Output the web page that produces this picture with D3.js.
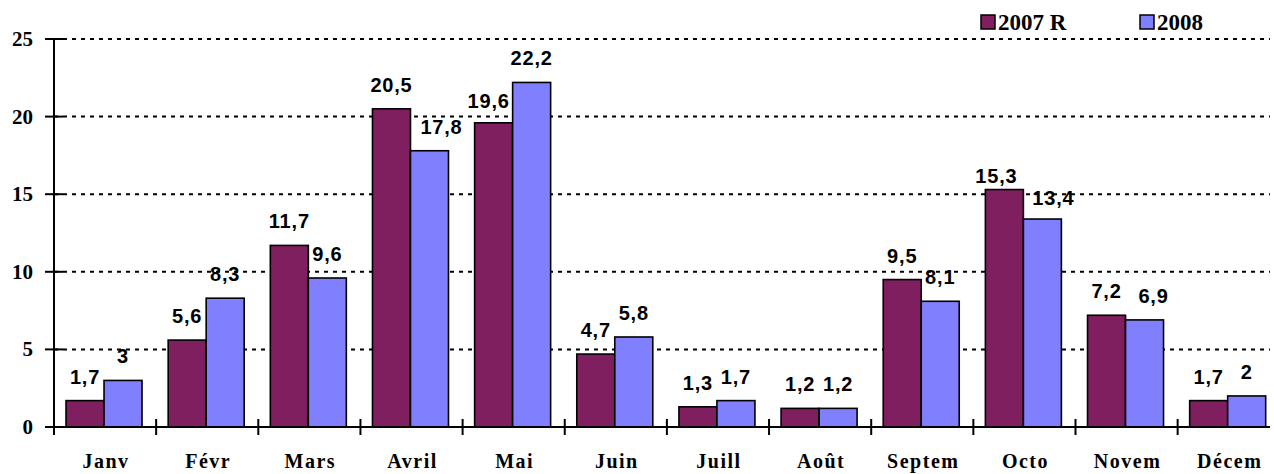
<!DOCTYPE html>
<html>
<head>
<meta charset="utf-8">
<script src="https://cdn.jsdelivr.net/npm/d3@7"></script>
<style>
  html, body { margin: 0; padding: 0; background: #fff; }
  svg { display: block; }
</style>
</head>
<body>
<svg id="chart" width="1274" height="474"></svg>
<script>
const categories = ["Janv", "Févr", "Mars", "Avril", "Mai", "Juin", "Juill", "Août", "Septem", "Octo", "Novem", "Décem"];
const seriesNames = ["2007 R", "2008"];
const values2007 = [1.7, 5.6, 11.7, 20.5, 19.6, 4.7, 1.3, 1.2, 9.5, 15.3, 7.2, 1.7];
const values2008 = [3, 8.3, 9.6, 17.8, 22.2, 5.8, 1.7, 1.2, 8.1, 13.4, 6.9, 2];
const yTicks = [0, 5, 10, 15, 20, 25];

const colors = ["#7f1f5f", "#8080ff"];
const svg = d3.select("#chart");

const x0 = 54, step = 102.15;
const x = d3.scaleBand().domain(categories).range([x0, x0 + step * categories.length]).padding(0);
const xs = d3.scaleBand().domain(seriesNames).range([0, x.bandwidth()]).paddingInner(0).paddingOuter(0.344).align(0.46);
const y = d3.scaleLinear().domain([0, 25]).range([427, 39]);

const fmt = v => String(v).replace(".", ",");

// gridlines
svg.append("g").selectAll("line").data(yTicks.filter(t => t > 0)).join("line")
  .attr("x1", x0).attr("x2", 1270)
  .attr("y1", d => y(d)).attr("y2", d => y(d))
  .attr("stroke", "#000").attr("stroke-width", 2).attr("stroke-dasharray", "4,5");

// bars
const rows = categories.map((c, i) => ({ c, vals: [values2007[i], values2008[i]] }));
const groups = svg.append("g").selectAll("g").data(rows).join("g")
  .attr("transform", d => `translate(${x(d.c)},0)`);
groups.selectAll("rect").data(d => d.vals.map((v, k) => ({ v, k }))).join("rect")
  .attr("x", d => xs(seriesNames[d.k]))
  .attr("width", xs.bandwidth())
  .attr("y", d => y(d.v))
  .attr("height", d => y(0) - y(d.v))
  .attr("fill", d => colors[d.k])
  .attr("stroke", "#000").attr("stroke-width", 1.6);

// value labels (small manual nudges as in the original)
const nudge = { "Avril-1": [12, 0], "Mai-0": [-5, 2], "Octo-0": [-8, 10], "Octo-1": [11, 3], "Novem-1": [9, 0] };
groups.selectAll("text").data(d => d.vals.map((v, k) => ({ v, k, c: d.c }))).join("text")
  .attr("x", d => xs(seriesNames[d.k]) + xs.bandwidth() / 2 + (nudge[d.c + "-" + d.k] || [0, 0])[0])
  .attr("y", d => y(d.v) - 17 + (nudge[d.c + "-" + d.k] || [0, 0])[1])
  .attr("text-anchor", "middle")
  .attr("font-family", "'Liberation Sans', Arial, sans-serif")
  .attr("font-weight", "bold").attr("font-size", 20).attr("letter-spacing", 0.8)
  .text(d => fmt(d.v));

// y axis
const yAxis = svg.append("g");
yAxis.append("line").attr("x1", x0).attr("x2", x0).attr("y1", y(25)).attr("y2", y(0))
  .attr("stroke", "#000").attr("stroke-width", 2);
yAxis.selectAll("line.tick").data(yTicks).join("line").attr("class", "tick")
  .attr("x1", x0 - 9).attr("x2", x0 + 9).attr("y1", d => y(d)).attr("y2", d => y(d))
  .attr("stroke", "#000").attr("stroke-width", 2);
yAxis.selectAll("text").data(yTicks).join("text")
  .attr("x", 33).attr("y", d => y(d) + 7)
  .attr("text-anchor", "end")
  .attr("font-family", "'Liberation Serif', 'Times New Roman', serif")
  .attr("font-weight", "bold").attr("font-size", 21)
  .text(d => d);

// x axis
const xAxis = svg.append("g");
xAxis.append("line").attr("x1", x0).attr("x2", 1270).attr("y1", y(0)).attr("y2", y(0))
  .attr("stroke", "#000").attr("stroke-width", 2);
xAxis.selectAll("line.tick").data(categories.map((c, i) => i)).join("line").attr("class", "tick")
  .attr("x1", i => x0 + i * step).attr("x2", i => x0 + i * step)
  .attr("y1", y(0) - 8).attr("y2", y(0) + 8)
  .attr("stroke", "#000").attr("stroke-width", 2);
xAxis.selectAll("text").data(categories).join("text")
  .attr("x", d => x(d) + x.bandwidth() / 2 + 1)
  .attr("y", 468)
  .attr("text-anchor", "middle")
  .attr("font-family", "'Liberation Serif', 'Times New Roman', serif")
  .attr("font-weight", "bold").attr("font-size", 20).attr("letter-spacing", 1.5)
  .text(d => d);

// legend
const legendX = [981, 1140];
const lg = svg.append("g").selectAll("g").data(seriesNames).join("g")
  .attr("transform", (d, i) => `translate(${legendX[i]},15)`);
lg.append("rect").attr("width", 14).attr("height", 14)
  .attr("fill", (d, i) => colors[i]).attr("stroke", "#000").attr("stroke-width", 1.5);
lg.append("text").attr("x", 17).attr("y", 14.5)
  .attr("font-family", "'Liberation Serif', 'Times New Roman', serif")
  .attr("font-weight", "bold").attr("font-size", 23)
  .text(d => d);
</script>
</body>
</html>
